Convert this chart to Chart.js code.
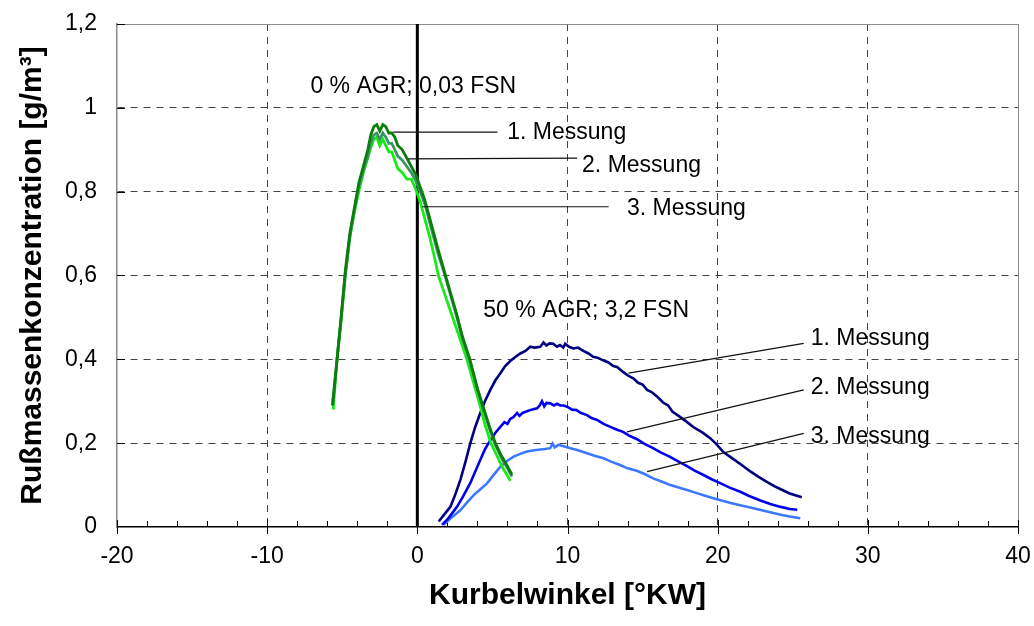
<!DOCTYPE html>
<html><head><meta charset="utf-8">
<script src="https://cdn.jsdelivr.net/npm/chart.js@4.4.1/dist/chart.umd.min.js"></script>
<style>html,body{margin:0;padding:0;background:#fff;}canvas{display:block;}</style>
</head><body>
<canvas id="c" width="1034" height="626"></canvas>
<script>
// ---- tick labels ----
const xTickLabels = ['-20','-10','0','10','20','30','40'];
const yTickLabels = ['0','0,2','0,4','0,6','0,8','1','1,2'];

// ---- 0 % AGR series (green) ----
const g1X = [-5.65,-5.4,-5.1,-4.8,-4.5,-4.2,-3.9,-3.6,-3.3,-3.1,-2.9,-2.7,-2.5,-2.3,-2.1,-1.9,-1.7,-1.5,-1.3,-1.0,-0.7,-0.4,-0.1,0.2,0.5,0.8,1.1,1.4,1.8,2.2,2.6,3.0,3.5,4.0,4.4,4.8,5.2,5.6,6.0,6.3];
const g1Y = [0.29,0.38,0.49,0.61,0.70,0.76,0.82,0.86,0.90,0.935,0.955,0.96,0.945,0.96,0.955,0.94,0.94,0.93,0.91,0.90,0.88,0.86,0.84,0.81,0.78,0.74,0.70,0.66,0.61,0.56,0.51,0.455,0.40,0.33,0.285,0.24,0.20,0.17,0.145,0.125];
const g2X = [-5.65,-5.4,-5.1,-4.8,-4.5,-4.2,-3.9,-3.6,-3.3,-3.1,-2.9,-2.7,-2.5,-2.3,-2.1,-1.9,-1.7,-1.5,-1.3,-1.0,-0.7,-0.4,-0.1,0.2,0.5,0.8,1.1,1.4,1.8,2.2,2.6,3.0,3.5,4.0,4.4,4.8,5.2,5.6,6.0,6.3];
const g2Y = [0.29,0.38,0.49,0.60,0.69,0.755,0.81,0.85,0.885,0.915,0.935,0.94,0.925,0.94,0.93,0.915,0.915,0.90,0.885,0.875,0.86,0.845,0.825,0.80,0.77,0.73,0.69,0.65,0.605,0.555,0.505,0.45,0.395,0.33,0.28,0.235,0.195,0.165,0.14,0.12];
const g3X = [-5.6,-5.35,-5.08,-4.8,-4.5,-4.2,-3.9,-3.6,-3.3,-3.1,-2.9,-2.7,-2.5,-2.3,-2.1,-1.9,-1.7,-1.5,-1.3,-1.0,-0.7,-0.4,-0.1,0.2,0.5,0.8,1.1,1.4,1.8,2.2,2.6,3.0,3.3,3.7,4.1,4.5,4.9,5.3,5.7,6.2];
const g3Y = [0.28,0.40,0.49,0.60,0.69,0.75,0.80,0.845,0.88,0.905,0.925,0.93,0.91,0.925,0.91,0.895,0.895,0.875,0.855,0.845,0.83,0.83,0.805,0.775,0.735,0.695,0.65,0.60,0.558,0.516,0.474,0.432,0.40,0.35,0.30,0.245,0.20,0.17,0.14,0.11];

// ---- 50 % AGR series (blue) ----
const b1X = [1.42,1.8,2.2,2.5,2.86,3.2,3.53,3.85,4.19,4.5,4.86,5.2,5.53,5.85,6.19,6.5,6.86,7.2,7.52,7.8,8.19,8.4,8.6,8.8,9.05,9.3,9.5,9.72,9.85,10.1,10.4,10.7,11.05,11.4,11.7,12.0,12.4,12.7,13.05,13.3,13.7,14.0,14.4,14.7,15.0,15.3,15.6,16.0,16.4,16.7,17.0,17.4,17.9,18.4,19.0,19.5,19.85,20.4,21.0,21.6,22.2,22.7,23.3,23.8,24.2,24.8,25.6];
const b1Y = [0.013,0.03,0.048,0.075,0.112,0.155,0.20,0.238,0.272,0.30,0.327,0.35,0.367,0.384,0.396,0.405,0.414,0.42,0.43,0.428,0.43,0.44,0.433,0.438,0.437,0.43,0.434,0.428,0.437,0.43,0.426,0.428,0.42,0.414,0.406,0.404,0.397,0.393,0.384,0.382,0.37,0.362,0.354,0.344,0.34,0.327,0.322,0.31,0.296,0.29,0.275,0.265,0.252,0.238,0.225,0.212,0.20,0.178,0.163,0.148,0.132,0.12,0.107,0.097,0.09,0.08,0.071];
const b2X = [1.64,2.0,2.3,2.64,3.0,3.3,3.53,3.85,4.19,4.5,4.86,5.2,5.53,5.8,6.0,6.19,6.4,6.64,6.8,7.0,7.3,7.6,7.97,8.15,8.3,8.45,8.6,8.85,9.1,9.3,9.52,9.75,9.97,10.3,10.6,10.9,11.3,11.6,12.0,12.4,12.85,13.3,13.7,14.1,14.6,15.1,15.7,16.2,16.8,17.4,17.96,18.5,19.06,19.6,20.2,20.8,21.5,22.1,22.8,23.5,24.2,24.8,25.3];
const b2Y = [0.005,0.018,0.032,0.048,0.07,0.09,0.105,0.132,0.16,0.185,0.207,0.225,0.239,0.25,0.246,0.258,0.262,0.272,0.265,0.272,0.276,0.28,0.283,0.29,0.30,0.288,0.296,0.295,0.29,0.294,0.29,0.29,0.287,0.28,0.279,0.272,0.267,0.26,0.255,0.246,0.239,0.232,0.227,0.218,0.21,0.199,0.188,0.178,0.168,0.156,0.145,0.134,0.124,0.114,0.104,0.094,0.084,0.074,0.064,0.055,0.048,0.043,0.041];
const b3X = [1.75,2.2,2.86,3.3,3.75,4.2,4.64,5.1,5.53,6.0,6.41,6.9,7.3,7.8,8.19,8.5,8.85,9.0,9.15,9.4,9.8,10.2,10.7,11.3,11.8,12.4,12.9,13.5,14.0,14.6,15.1,15.7,16.3,16.85,17.4,17.96,18.5,19.06,19.6,20.2,20.8,21.5,22.1,22.8,23.5,24.2,24.8,25.5];
const b3Y = [0.005,0.02,0.04,0.058,0.076,0.09,0.104,0.125,0.144,0.158,0.168,0.175,0.18,0.183,0.185,0.186,0.188,0.199,0.19,0.196,0.192,0.188,0.183,0.176,0.17,0.164,0.156,0.148,0.14,0.134,0.127,0.116,0.108,0.10,0.094,0.088,0.082,0.076,0.07,0.064,0.058,0.052,0.047,0.041,0.035,0.029,0.025,0.021];

// ---- reference line at 0 °KW ----
const zeroLineX = [0, 0];
const zeroLineY = [0, 1.2];

// ---- annotations (data coordinates) ----
const annoTexts = ['0 % AGR; 0,03 FSN','1. Messung','2. Messung','3. Messung','50 % AGR; 3,2 FSN','1. Messung','2. Messung','3. Messung'];
const annoX = [-7.12, 5.99, 10.97, 13.96, 4.39, 26.2, 26.2, 26.2];
const annoY = [1.05, 0.940, 0.861, 0.759, 0.515, 0.4485, 0.3316, 0.2155];
const leadX1 = [-1.6, -0.6, 0.33, 14.07, 13.96, 15.3];
const leadY1 = [0.942, 0.878, 0.764, 0.367, 0.227, 0.132];
const leadX2 = [5.33, 10.65, 12.74, 25.73, 25.73, 25.73];
const leadY2 = [0.942, 0.88, 0.764, 0.438, 0.327, 0.2235];

const FONT = '"Liberation Sans", Arial, Helvetica, sans-serif';
const pts = (xs, ys) => xs.map((x, i) => ({x, y: ys[i]}));
const line = (label, xs, ys, color, w) => ({
  label, data: pts(xs, ys), borderColor: color, backgroundColor: color,
  borderWidth: w, pointRadius: 0, tension: 0, fill: false
});
const noPad = s => { s.paddingLeft = 0; s.paddingRight = 0; s.paddingTop = 0; s.paddingBottom = 0; };

const tickMarks = {
  id: 'tickMarks',
  beforeDatasetsDraw(chart) {
    const {ctx, scales: {x, y}, chartArea: a} = chart;
    ctx.save();
    ctx.strokeStyle = '#000';
    ctx.lineWidth = 1;
    for (let v = -20; v <= 40; v += 2) {
      const p = Math.round(x.getPixelForValue(v)) + 0.5;
      ctx.beginPath();
      if (v % 10 === 0) { ctx.moveTo(p, a.bottom - 7); ctx.lineTo(p, a.bottom + 7); }
      else { ctx.moveTo(p, a.bottom - 6); ctx.lineTo(p, a.bottom); }
      ctx.stroke();
    }
    for (let i = 1; i < yTickLabels.length; i++) {
      const p = Math.round(y.getPixelForValue(i * 0.2)) + 0.5;
      ctx.beginPath(); ctx.moveTo(a.left, p); ctx.lineTo(a.left + 8, p); ctx.stroke();
    }
    ctx.restore();
  }
};

const annotations = {
  id: 'annotations',
  afterDatasetsDraw(chart) {
    const {ctx, scales: {x, y}} = chart;
    ctx.save();
    ctx.strokeStyle = '#111';
    ctx.lineWidth = 1.2;
    for (let i = 0; i < leadX1.length; i++) {
      ctx.beginPath();
      ctx.moveTo(x.getPixelForValue(leadX1[i]), y.getPixelForValue(leadY1[i]));
      ctx.lineTo(x.getPixelForValue(leadX2[i]), y.getPixelForValue(leadY2[i]));
      ctx.stroke();
    }
    ctx.fillStyle = '#000';
    ctx.font = '23px ' + FONT;
    ctx.textAlign = 'left';
    ctx.textBaseline = 'middle';
    for (let i = 0; i < annoTexts.length; i++) {
      ctx.fillText(annoTexts[i], x.getPixelForValue(annoX[i]), y.getPixelForValue(annoY[i]));
    }
    ctx.restore();
  }
};

new Chart(document.getElementById('c'), {
  type: 'line',
  data: {
    datasets: [
      line('0 % AGR 1. Messung', g1X, g1Y, '#0a7d0a', 2.8),
      line('0 % AGR 2. Messung', g2X, g2Y, '#3a9466', 2.8),
      line('0 % AGR 3. Messung', g3X, g3Y, '#1be81b', 2.8),
      line('50 % AGR 1. Messung', b1X, b1Y, '#000080', 2.6),
      line('50 % AGR 2. Messung', b2X, b2Y, '#0000ee', 2.6),
      line('50 % AGR 3. Messung', b3X, b3Y, '#3c78ff', 2.6),
      line('0 °KW', zeroLineX, zeroLineY, '#000000', 3)
    ]
  },
  options: {
    responsive: false,
    animation: false,
    devicePixelRatio: 1,
    layout: { padding: { top: 24, right: 16, left: 0, bottom: 0 } },
    plugins: { legend: { display: false }, tooltip: { enabled: false } },
    scales: {
      x: {
        type: 'linear', min: -20, max: 40,
        afterFit: s => { s.height = 99; noPad(s); },
        ticks: {
          stepSize: 2, autoSkip: false, maxRotation: 0, padding: 16,
          color: '#000', font: { family: FONT, size: 23 },
          callback: v => (v % 10 === 0 ? xTickLabels[(v + 20) / 10] : '')
        },
        grid: {
          drawTicks: false, lineWidth: 1,
          color: c => {
            const v = c.tick ? c.tick.value : null;
            if (v === -20 || v === 0) return 'rgba(0,0,0,0)';
            if (v === 40) return '#8a8a8a';
            return v % 10 === 0 ? '#444' : 'rgba(0,0,0,0)';
          }
        },
        border: {
          color: '#000', width: 1.5,
          dash: c => (c.type === 'tick' && c.tick.value !== 40) ? [7, 6] : []
        },
        title: {
          display: true, text: 'Kurbelwinkel [°KW]', color: '#000',
          font: { family: FONT, size: 30, weight: 'bold' },
          padding: { top: 0, bottom: 12 }
        }
      },
      y: {
        type: 'linear', min: 0, max: 1.2,
        afterFit: s => { s.width = 117; noPad(s); },
        ticks: {
          stepSize: 0.2, padding: 20, color: '#000',
          font: { family: FONT, size: 23 },
          callback: (v, i) => yTickLabels[i]
        },
        grid: {
          drawTicks: false, lineWidth: 1,
          color: c => {
            if (c.index === 0) return 'rgba(0,0,0,0)';
            if (c.index === 6) return '#8a8a8a';
            return '#444';
          }
        },
        border: {
          color: '#8a8a8a', width: 1.5,
          dash: c => (c.type === 'tick' && c.index !== 6) ? [7, 6] : []
        },
        title: {
          display: true, text: 'Rußmassenkonzentration [g/m³]', color: '#000',
          font: { family: FONT, size: 30, weight: 'bold' },
          padding: { top: 15, bottom: 0 }
        }
      }
    }
  },
  plugins: [tickMarks, annotations]
});
</script>
</body></html>
